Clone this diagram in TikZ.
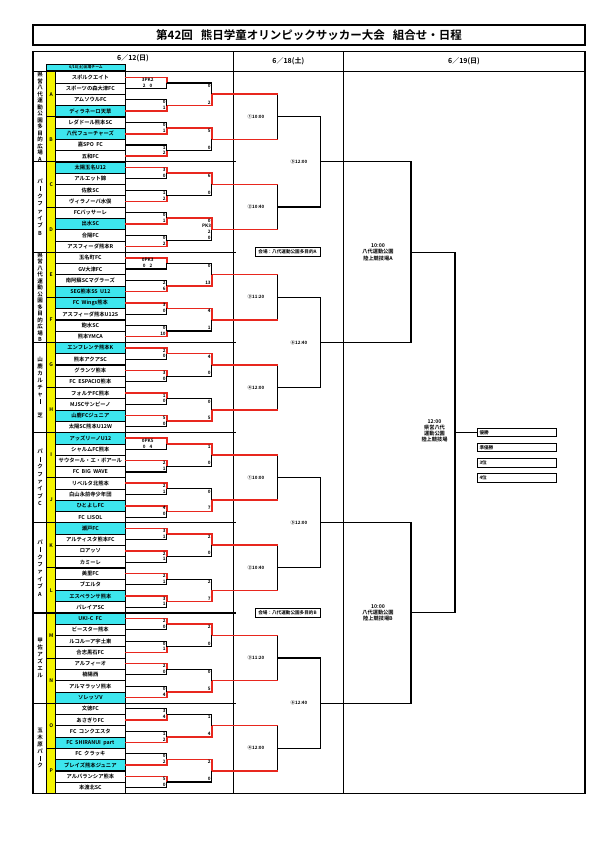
\documentclass[tikz,border=0pt]{standalone}
\usepackage{fontspec}
\setmainfont{Noto Sans CJK JP}[BoldFont={* Bold}]
\usetikzlibrary{positioning, calc}
\definecolor{brkred}{HTML}{E8271E}
\definecolor{wincyan}{HTML}{3DE6EE}
\definecolor{grpyellow}{HTML}{F4F400}
\newcommand{\fsz}[1]{\fontsize{#1}{#1}\selectfont\bfseries}
\newcommand{\vbar}{\rule[-0.3pt]{0.8pt}{5pt}}
\def\rh{11.275}
\def\ytop{71.7}
\def\xa{166.7}
\def\xb{211.7}
\def\xq{277.7}
\def\xs{320.7}
\def\xsf{411}
\def\xf{455}

\begin{document}
\begin{tikzpicture}[
    x=1pt, y=-1pt,
    brk/.style={draw=black, line width=1.1pt},
    win/.style={draw=brkred, line width=1.6pt},
    frame/.style={draw=black, line width=1.2pt},
    team/.style={rectangle, draw=black, line width=0.5pt, minimum width=69.3pt,
                 minimum height=11.275pt, inner sep=0pt, outer sep=0pt, font=\fsz{5.3}},
    grpbox/.style={rectangle, draw=black, line width=0.9pt, fill=grpyellow, minimum width=9pt,
                   minimum height=45.1pt, inner sep=0pt, font=\fsz{5}},
    venue/.style={align=center, inner sep=0pt, font=\fontsize{5.5}{#1}\selectfont\bfseries},
    score/.style={inner sep=0pt, font=\fsz{4.6}},
    timelbl/.style={inner sep=0pt, font=\fsz{4.5}},
    place/.style={rectangle, draw=black, line width=1pt, minimum width=65pt, minimum height=9pt,
                  inner sep=0.5pt, font=\fsz{4.6}},
    stage/.style={align=center, inner sep=0pt, font=\fontsize{5.2}{#1}\selectfont\bfseries},
    rankbox/.style={rectangle, draw=black, line width=1pt, minimum width=79pt, minimum height=8.3pt,
                    text width=75pt, align=left, inner sep=1.5pt, font=\fsz{4.6}},
]
    \useasboundingbox (0,0) rectangle (595,842);

    % Title
    \node[rectangle, frame, minimum width=552pt, minimum height=20pt, font=\fsz{11.5}] (title) at (309,35)
        {第42回\hspace{8pt}熊日学童オリンピックサッカー大会\hspace{8pt}組合せ・日程};

    % Table frame and header
    \draw[frame] (33,51.5) rectangle (585,793.3);
    \draw[frame] (33,71.7) -- (585,71.7);
    \draw[frame] (233.3,51.5) -- (233.3,793.3);
    \draw[frame] (343.3,51.5) -- (343.3,793.3);
    \node[font=\fsz{7}, inner sep=0pt] (day1) at (133,58) {6／12(日)};
    \node[font=\fsz{7}, inner sep=0pt] (day2) at (288.3,61.7) {6／18(土)};
    \node[font=\fsz{7}, inner sep=0pt] (day3) at (464,61.7) {6／19(日)};
    \node[rectangle, draw=black, line width=0.6pt, fill=wincyan, minimum width=78.3pt, minimum height=6.4pt,
          inner sep=0pt, font=\fsz{3.8}] (key) at (85.9,67.5) {6/18(土)出場チーム};

    % Group strips
    \foreach \g/\L in {0/A,1/B,2/C,3/D,4/E,5/F,6/G,7/H,8/I,9/J,10/K,11/L,12/M,13/N,14/O,15/P} {
        \pgfmathsetmacro\yg{\ytop+(4*\g+2)*\rh}
        \node[grpbox] (y\g) at (51.2,\yg) {\L};
    }

    % Teams
    \foreach \nm/\c [count=\i from 0] in {
        スポルクエイト/0, スポーツの森大津FC/0, アムソウルFC/0, ディラネーロ天草/1,
        レダドール熊本SC/0, 八代フューチャーズ/1, 嘉SPO\ \ FC/0, 五和FC/0,
        太陽玉名U12/1, アルエット錦/0, 佐敷SC/0, ヴィラノーバ水俣/0,
        FCバッサーレ/0, 出水SC/1, 合陽FC/0, アスフィーダ熊本R/0,
        玉名町FC/0, GV大津FC/0, 南阿蘇SCマグラーズ/0, SEG熊本SS\ \ U12/1,
        FC\ \ Wings熊本/1, アスフィーダ熊本U12S/0, 飽水SC/0, 熊本YMCA/0,
        エンフレンテ熊本K/1, 熊本アクアSC/0, グランツ熊本/0, FC\ \ ESPACIO熊本/0,
        フォルテFC熊本/0, MJSCサンピーノ/0, 山鹿FCジュニア/1, 太陽SC熊本U12W/0,
        アッズリーノU12/1, シャルムFC熊本/0, サウタール・エ・ボアール/0, FC\ \ BIG\ \ WAVE/0,
        リベルタ北熊本/0, 白山永前寺少年団/0, ひとよしFC/1, FC\ \ LISOL/0,
        瀬戸FC/1, アルティスタ熊本FC/0, ロアッソ/0, カミーレ/0,
        美里FC/0, ブエルタ/0, エスペランサ熊本/1, パレイアSC/0,
        UKI-C\ \ FC/1, ビースター熊本/0, ルコルーア宇土東/0, 合志黒石FC/0,
        アルフィーオ/0, 楠陽西/0, アルマラッソ熊本/0, ソレッソV/1,
        文徳FC/0, あさぎりFC/0, FC\ \ コンクエスタ/0, FC\ \ SHIRANUI\ \ part/1,
        FC\ \ クラッキ/0, ブレイズ熊本ジュニア/1, アルバランシア熊本/0, 本渡北SC/0} {
        \pgfmathsetmacro\yc{\ytop+(\i+0.5)*\rh}
        \ifnum\c=1 \def\cf{wincyan}\else\def\cf{white}\fi
        \node[team, fill=\cf] (t\i) at (90.35,\yc) {\nm};
    }
    \foreach \k in {0,...,31} {
        \pgfmathtruncatemacro\ta{2*\k}
        \pgfmathtruncatemacro\tb{2*\k+1}
        \draw[line width=0.9pt] (t\ta.north west) rectangle (t\tb.south east);
    }

    % Venues
    \foreach \v in {1,...,7} {
        \pgfmathsetmacro\yv{\ytop+8*\v*\rh}
        \draw[frame] (33,\yv) -- (236,\yv);
    }
    \foreach \v/\sk/\txt in {
        0/6.5/{県\\営\\八\\代\\運\\動\\公\\園\\多\\目\\的\\広\\場\\A},
        1/7.4/{パ\\\vbar\\ク\\フ\\ァ\\イ\\ブ\\B},
        2/6.5/{県\\営\\八\\代\\運\\動\\公\\園\\多\\目\\的\\広\\場\\B},
        3/7.1/{山\\鹿\\カ\\ル\\チ\\ャ\\\vbar\\\\芝},
        4/7.4/{パ\\\vbar\\ク\\フ\\ァ\\イ\\ブ\\C},
        5/7.4/{パ\\\vbar\\ク\\フ\\ァ\\イ\\ブ\\A},
        6/7.0/{甲\\佐\\ア\\ズ\\エ\\ル},
        7/7.0/{玉\\木\\原\\パ\\\vbar\\ク}} {
        \pgfmathsetmacro\yv{\ytop+(8*\v+4)*\rh}
        \node[venue=\sk] (v\v) at (40,\yv) {\txt};
    }

    % Rounds after the groups
    \foreach \m in {0,...,7} {
        \pgfmathsetmacro\yy{\ytop+(8*\m+4)*\rh}
        \coordinate (q\m) at (\xq,\yy);
    }
    \foreach \n in {0,...,3} {
        \pgfmathsetmacro\yy{\ytop+(16*\n+8)*\rh}
        \coordinate (s\n) at (\xs,\yy);
    }
    \foreach \h in {0,1} {
        \pgfmathsetmacro\yy{\ytop+(32*\h+16)*\rh}
        \coordinate (f\h) at (\xsf,\yy);
    }
    \pgfmathsetmacro\yfin{\ytop+32*\rh}
    \coordinate (fin) at (\xf,\yfin);

    % First round
    \foreach \k/\w/\sa/\sb in {0/0/{}/{},1/1/0/1,2/1/0/1,3/1/1/2,4/0/3/0,5/1/1/2,6/1/0/1,7/1/0/2,
        8/0/{}/{},9/1/2/6,10/0/3/0,11/1/0/10,12/0/2/0,13/0/3/0,14/0/1/0,15/0/5/0,
        16/0/{}/{},17/0/2/1,18/0/2/1,19/0/4/0,20/0/3/1,21/0/2/1,22/0/2/1,23/0/3/1,
        24/0/2/0,25/1/0/1,26/0/2/0,27/1/0/4,28/1/3/4,29/1/1/2,30/1/0/2,31/0/5/0} {
        \pgfmathtruncatemacro\ta{2*\k}
        \pgfmathtruncatemacro\tb{2*\k+1}
        \pgfmathtruncatemacro\tw{2*\k+\w}
        \pgfmathsetmacro\ym{\ytop+(2*\k+1)*\rh}
        \coordinate (p\k) at (\xa,\ym);
        \draw[brk] (t\ta.east) -| (p\k);
        \draw[brk] (t\tb.east) -| (p\k);
        \draw[win] (t\tw.east) -| (p\k);
        \node[score, anchor=east] at ($(p\k)+(-0.8,-3.2)$) {\sa};
        \node[score, anchor=east] at ($(p\k)+(-0.8,2.6)$) {\sb};
    }
    \node[score] at ($(p0)+(-19,-3.2)$) {3PK2};
    \node[score] at ($(p0)+(-19,2.6)$) {2\hspace{4pt}0};
    \node[score] at ($(p8)+(-19,-3.2)$) {0PK3};
    \node[score] at ($(p8)+(-19,2.6)$) {0\hspace{4pt}2};
    \node[score] at ($(p16)+(-19,-3.2)$) {0PK5};
    \node[score] at ($(p16)+(-19,2.6)$) {0\hspace{4pt}4};

    % Group finals
    \foreach \g/\w/\sa/\sb in {0/1/0/2,1/0/5/0,2/0/6/0,3/0/0/0,4/1/0/13,5/0/4/1,6/0/4/0,7/1/0/5,
        8/0/1/0,9/1/0/7,10/0/2/0,11/1/2/7,12/0/2/0,13/1/0/5,14/1/1/4,15/0/2/0} {
        \pgfmathtruncatemacro\pa{2*\g}
        \pgfmathtruncatemacro\pb{2*\g+1}
        \pgfmathtruncatemacro\pw{2*\g+\w}
        \pgfmathtruncatemacro\qi{int(\g/2)}
        \pgfmathsetmacro\yg{\ytop+(4*\g+2)*\rh}
        \coordinate (g\g) at (\xb,\yg);
        \draw[brk] (p\pa) -| (g\g);
        \draw[brk] (p\pb) -| (g\g);
        \draw[win] (p\pw) -| (g\g);
        \draw[brk] (g\g) -| (q\qi);
        \draw[win] (g\g) -- (g\g -| q\qi);
        \node[score, anchor=east] at ($(p\pa -| g\g)+(-0.8,2.8)$) {\sa};
        \node[score, anchor=east] at ($(p\pb -| g\g)+(-0.8,-3.2)$) {\sb};
    }
    \node[score, anchor=east] at ($(g3)+(-0.5,-3.9)$) {PK3};
    \node[score, anchor=east] at ($(g3)+(-0.8,2.1)$) {2};

    % Quarter finals to final
    \foreach \m/\n in {0/0,1/0,2/1,3/1,4/2,5/2,6/3,7/3}
        \draw[brk] (q\m) -| (s\n);
    \foreach \n/\h in {0/0,1/0,2/1,3/1}
        \draw[brk] (s\n) -| (f\h);
    \foreach \h in {0,1}
        \draw[brk] (f\h) -| (fin);

    \foreach \m/\lb in {0/①10:00,1/②10:40,2/③11:20,3/④12:00,4/①10:00,5/②10:40,6/③11:20,7/④12:00}
        \node[timelbl] at ($(q\m)+(-21.7,0)$) {\lb};
    \foreach \n/\lb in {0/⑤12:00,1/⑥12:40,2/⑤12:00,3/⑥12:40}
        \node[timelbl] at ($(s\n)+(-21.7,0)$) {\lb};

    \node[place] (placeA) at (287.5,252.1) {会場：八代運動公園多目的A};
    \node[place] (placeB) at (287.5,612.9) {会場：八代運動公園多目的B};

    \node[stage=6.3] (semiA) at ($(f0)+(-33,0)$) {10:00\\八代運動公園\\陸上競技場A};
    \node[stage=6.3] (semiB) at ($(f1)+(-33,0)$) {10:00\\八代運動公園\\陸上競技場B};
    \node[stage=5.9] (final) at ($(fin)+(-20.5,-1.5)$) {12:00\\県営八代\\運動公園\\陸上競技場};

    % Ranking
    \node[rankbox, anchor=west] (r1) at (477,\yfin) {優勝};
    \node[rankbox, below=5.9pt of r1] (r2) {準優勝};
    \node[rankbox, below=5.9pt of r2] (r3) {3位};
    \node[rankbox, below=5.9pt of r3] (r4) {4位};
    \draw[line width=0.6pt] (fin) -- (r1.west);
\end{tikzpicture}
\end{document}
